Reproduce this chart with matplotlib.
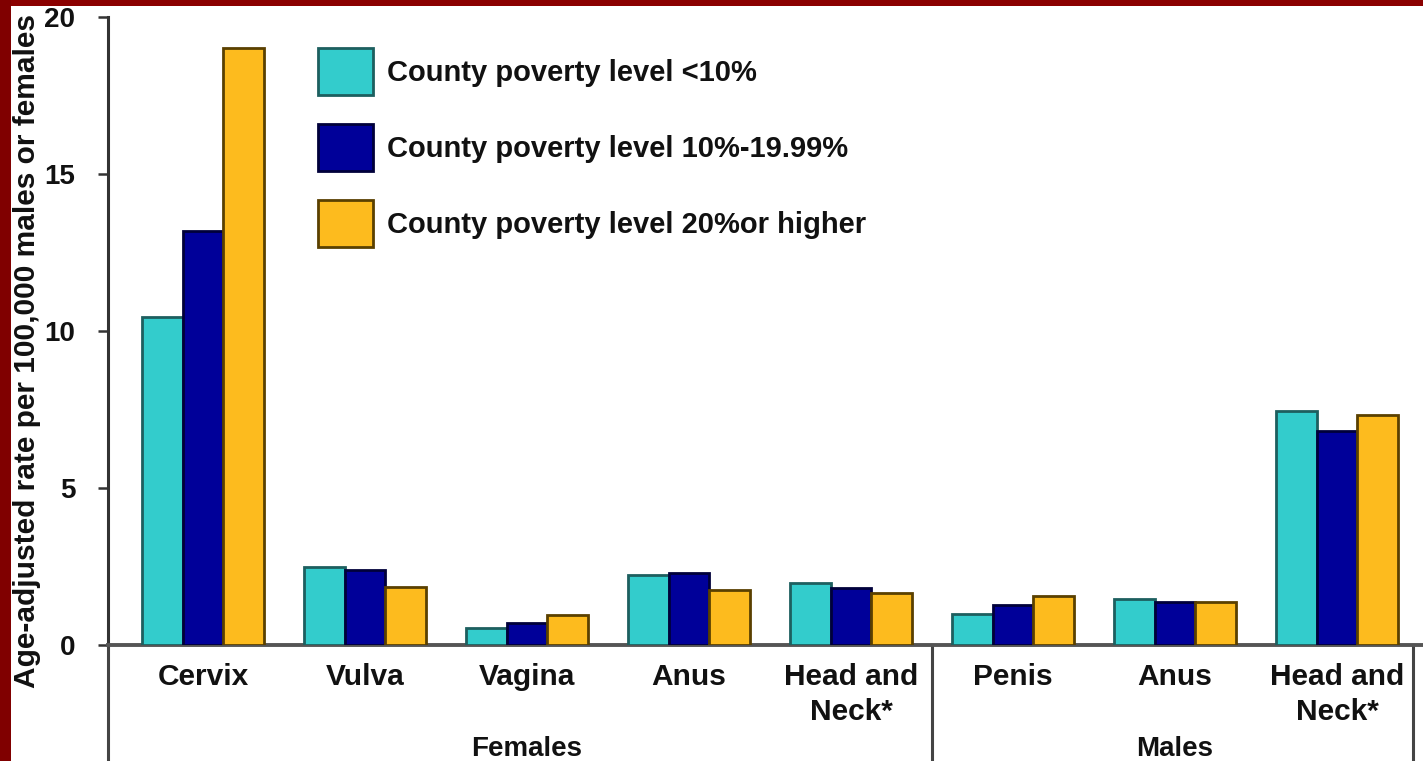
import matplotlib
matplotlib.use("Agg")
import matplotlib.pyplot as plt
import matplotlib.transforms as mtransforms
from matplotlib.patches import Rectangle
import numpy as np

plt.rcParams['font.family'] = ['Liberation Sans', 'DejaVu Sans']
plt.rcParams['font.weight'] = 'bold'

categories = ["Cervix", "Vulva", "Vagina", "Anus", "Head and\nNeck*",
              "Penis", "Anus", "Head and\nNeck*"]
groups = ["Females", "Males"]
group_sizes = [5, 3]
series_names = ["County poverty level <10%",
                "County poverty level 10%-19.99%",
                "County poverty level 20%or higher"]
low_poverty = [10.45, 2.49, 0.55, 2.22, 1.96, 0.98, 1.46, 7.45]
mid_poverty = [13.2, 2.39, 0.69, 2.28, 1.80, 1.27, 1.36, 6.83]
high_poverty = [19.0, 1.86, 0.96, 1.75, 1.65, 1.57, 1.38, 7.32]
yticks = [0, 5, 10, 15, 20]
ylabel = "Age-adjusted rate per 100,000 males or females"

face_colors = ["#33CCCC", "#000099", "#FDBB1E"]
edge_colors = ["#1d5f5f", "#00003a", "#5a4000"]

W, H = 1423, 761
fig = plt.figure(figsize=(W / 100, H / 100), dpi=100)
fig.patch.set_facecolor("white")

def fx(px):
    return px / W

def fy(py):
    return 1 - py / H

ax = fig.add_axes([fx(108), fy(645), fx(1423) - fx(108), fy(17) - fy(645)])
x = np.arange(len(categories))
bw = 0.25
for i, vals in enumerate([low_poverty, mid_poverty, high_poverty]):
    ax.bar(x + (i - 1) * bw, vals, width=bw, color=face_colors[i],
           edgecolor=edge_colors[i], linewidth=2, label=series_names[i], zorder=3)

ax.set_xlim(-0.586, 7.53)
ax.set_ylim(0, 20)
ax.set_yticks(yticks)
ax.set_yticklabels([str(t) for t in yticks], fontsize=20, fontweight='bold', color="#111111")
ax.tick_params(axis='y', direction='out', length=7.5, width=1.8, color="#333333", pad=16)
ax.set_xticks(x)
ax.set_xticklabels(categories, fontsize=21.5, fontweight='bold', color="#111111",
                   linespacing=1.3)
ax.tick_params(axis='x', length=0, pad=13)
for s in ['top', 'right']:
    ax.spines[s].set_visible(False)
ax.spines['left'].set_linewidth(2.2)
ax.spines['left'].set_color("#333333")
ax.spines['bottom'].set_linewidth(2.8)
ax.spines['bottom'].set_color("#555555")

# group separator lines below axis
trans = mtransforms.blended_transform_factory(ax.transData, ax.transAxes)
bounds = [-0.5]
for gs in group_sizes:
    bounds.append(bounds[-1] + gs)
sep_x = [-0.586, bounds[1], bounds[2] - 0.03]
for sx in sep_x:
    ax.plot([sx, sx], [0, -0.2], transform=trans, color="#444444",
            linewidth=2.2, clip_on=False)
start = -0.5
for g, gs in zip(groups, group_sizes):
    ax.text(start + gs / 2, -0.165, g, transform=trans, ha='center', va='center',
            fontsize=20, fontweight='bold', color="#111111")
    start += gs

fig.text(fx(27), fy(351), ylabel, rotation=90, ha='center', va='center',
         fontsize=21.5, fontweight='bold', color="#111111")

fs = 21
leg = ax.legend(loc='upper left', bbox_to_anchor=(fx(318), fy(48)),
                bbox_transform=fig.transFigure, frameon=False, fontsize=fs,
                handlelength=1.88, handleheight=2.10, labelspacing=1.0,
                handletextpad=0.5, borderpad=0, borderaxespad=0)
for t in leg.get_texts():
    t.set_fontweight('bold')
    t.set_color("#111111")

# dark red frame (top and left)
fig.patches.append(Rectangle((0, fy(6)), 1, 1 - fy(6), transform=fig.transFigure,
                             facecolor="#8B0000", edgecolor='none', zorder=10))
fig.patches.append(Rectangle((0, 0), fx(11), 1, transform=fig.transFigure,
                             facecolor="#800000", edgecolor='none', zorder=10))

fig.savefig("out.png", dpi=100)
